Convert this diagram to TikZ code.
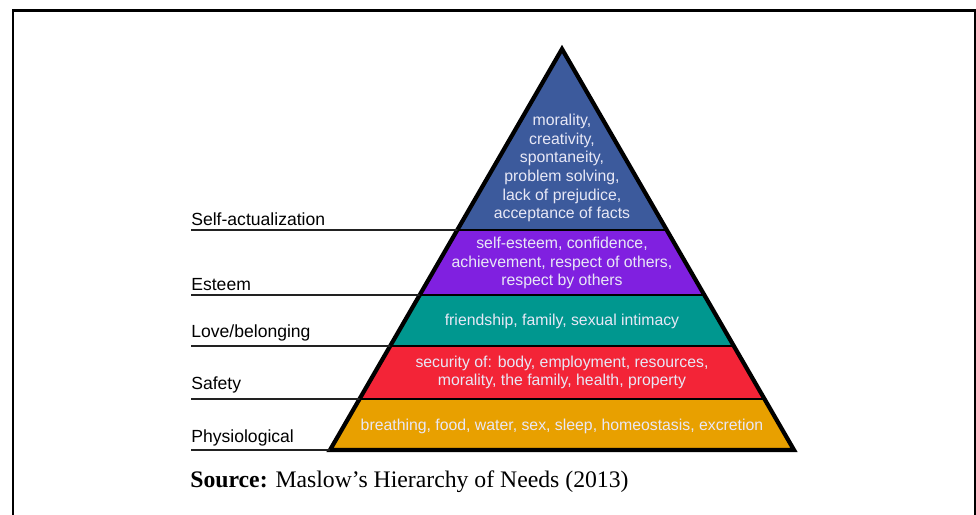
\documentclass[tikz,border=0pt]{standalone}
\usepackage{fontspec}
\setmainfont{Liberation Serif}
\setsansfont{Liberation Sans}
\usetikzlibrary{positioning,calc}

\definecolor{selfcol}{RGB}{60,90,156}
\definecolor{esteemcol}{RGB}{128,32,224}
\definecolor{lovecol}{RGB}{0,151,143}
\definecolor{safecol}{RGB}{243,36,55}
\definecolor{physcol}{RGB}{232,160,0}
\definecolor{inktext}{RGB}{232,232,246}
\definecolor{rulecol}{RGB}{34,34,34}

\tikzset{
  level/.style={anchor=base west, inner sep=0pt, font=\sffamily\fontsize{10}{12}\selectfont},
  needs/.style={align=center, inner sep=0pt, text=inktext,
    font=\sffamily\fontsize{9}{10.6}\selectfont},
  rule/.style={draw=rulecol, line width=1pt},
  band/.style={line width=1.6pt}
}

\begin{document}
\begin{tikzpicture}[x=0.02cm, y=-0.02cm]
  \useasboundingbox (0,0) rectangle (976,514);
  % open frame
  \draw[line width=1.7pt] (13,560) |- (975,10.5) -- (975,560);

  % pyramid corners and band edges
  \coordinate (apex) at (562,49);
  \coordinate (bl) at (330,450);
  \coordinate (br) at (794,450);
  \foreach \n/\t in {1/0.4514, 2/0.6135, 3/0.7406, 4/0.8728}{
    \coordinate (l\n) at ($(apex)!\t!(bl)$);
    \coordinate (r\n) at ($(apex)!\t!(br)$);
  }

  \fill[selfcol] (apex) -- (r1) -- (l1) -- cycle;
  \fill[esteemcol] (l1) -- (r1) -- (r2) -- (l2) -- cycle;
  \fill[lovecol] (l2) -- (r2) -- (r3) -- (l3) -- cycle;
  \fill[safecol] (l3) -- (r3) -- (r4) -- (l4) -- cycle;
  \fill[physcol] (l4) -- (r4) -- (br) -- (bl) -- cycle;
  \foreach \n in {1,...,4}
    \draw[band] (l\n) -- (r\n);
  \draw[line width=2.4pt, line join=miter] (apex) -- (br) -- (bl) -- cycle;

  % level rules on the left
  \coordinate (s1) at (191,230);
  \coordinate (s2) at (191,295);
  \coordinate (s3) at (191,346);
  \coordinate (s4) at (191,399);
  \coordinate (s5) at (191,450);
  \draw[rule] (s1) -- (l1);
  \draw[rule] (s2) -- (l2);
  \draw[rule] (s3) -- (l3);
  \draw[rule] (s4) -- (l4);
  \draw[rule] (s5) -- (bl);

  \node[level] (selfact) at (191,225.5) {Self-actualization};
  \node[level] (esteem) at (191,290.5) {Esteem};
  \node[level] (love) at (191,337) {Love/belonging};
  \node[level] (safety) at (191,389.5) {Safety};
  \node[level] (physio) at (191,442) {Physiological};

  % needs inside the bands
  \node[needs] (selftext) at (562,168) {morality,\\creativity,\\spontaneity,\\problem solving,\\lack of prejudice,\\acceptance of facts};
  \node[needs] (esteemtext) at (562,263) {self-esteem, confidence,\\achievement, respect of others,\\respect by others};
  \node[needs] (lovetext) at (562,321) {friendship, family, sexual intimacy};
  \node[needs] (safetext) at (562,372.5) {security of: body, employment, resources,\\morality, the family, health, property};
  \node[needs] (phystext) at (562,426) {breathing, food, water, sex, sleep, homeostasis, excretion};

  \node[anchor=base west, inner sep=0pt, font=\fontsize{13.5}{16}\selectfont] (source) at (190,487)
    {\textbf{Source:} Maslow’s Hierarchy of Needs (2013)};
\end{tikzpicture}
\end{document}
